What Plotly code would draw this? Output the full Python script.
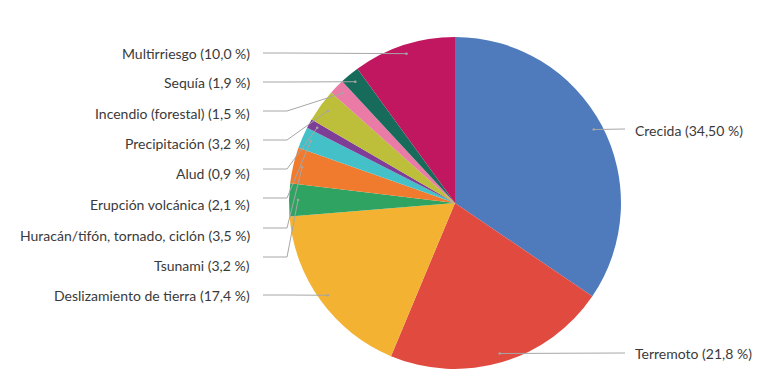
import math
import plotly.graph_objects as go

# ---- data ----
categories = ["Crecida", "Terremoto", "Deslizamiento de tierra", "Tsunami",
              "Huracán/tifón, tornado, ciclón", "Erupción volcánica", "Alud",
              "Precipitación", "Incendio (forestal)", "Sequía", "Multirriesgo"]
values = [34.5, 21.8, 17.4, 3.2, 3.5, 2.1, 0.9, 3.2, 1.5, 1.9, 10.0]
value_labels = ["34,50 %", "21,8 %", "17,4 %", "3,2 %", "3,5 %", "2,1 %", "0,9 %",
                "3,2 %", "1,5 %", "1,9 %", "10,0 %"]
colors = ["#4F7BBD", "#E04A3F", "#F3B232", "#2FA462", "#F07B2F", "#44C1C8",
          "#7E3D97", "#BDBE3A", "#E97BA6", "#176B5B", "#C01760"]

# ---- layout geometry (pixels in the page) ----
W, H = 768, 378
OFF = 8  # page body margin
CX, CY, R = 455, 203, 166
ANCHOR_R = 157
label_side = ["right", "right", "left", "left", "left", "left", "left", "left", "left", "left", "left"]
label_y = [130, 353, 295, 265, 235, 204, 174, 143, 113, 83, 53]
leader_y = [129, 353, 295, 257, 228, 198, 169, 140, 111, 82, 53]
LEFT_TEXT_X, LEFT_LINE_X, ELBOW_X = 252, 263, 287
RIGHT_LINE_X, RIGHT_TEXT_X = 625, 633


def px(x):
    return (x - OFF) / W


def py(y):
    return 1 - (y - OFF) / H


fig = go.Figure()
fig.add_trace(go.Pie(
    labels=categories, values=values, sort=False, direction="clockwise",
    rotation=0, marker=dict(colors=colors, line=dict(width=0)),
    textinfo="none", hoverinfo="label+percent", showlegend=False,
    domain=dict(x=[px(CX - R), px(CX + R)], y=[py(CY + R), py(CY - R)]),
))

total = sum(values)
cum = 0.0
shapes = []
annotations = []
LINE = dict(color="#A6A6A6", width=1)
for i, v in enumerate(values):
    mid = (cum + v / 2) / total * 2 * math.pi
    cum += v
    ax = CX + ANCHOR_R * math.sin(mid)
    ay = CY - ANCHOR_R * math.cos(mid)
    ly = leader_y[i]
    text = f"{categories[i]} ({value_labels[i]})"
    if label_side[i] == "left":
        path = f"M {px(LEFT_LINE_X)},{py(ly)} L {px(ELBOW_X)},{py(ly)} L {px(ax)},{py(ay)}"
        annotations.append(dict(x=px(LEFT_TEXT_X), y=py(label_y[i]), xref="paper", yref="paper",
                                xanchor="right", yanchor="middle", showarrow=False, text=text))
    else:
        path = f"M {px(ax)},{py(ay)} L {px(RIGHT_LINE_X)},{py(ly)}"
        annotations.append(dict(x=px(RIGHT_TEXT_X), y=py(label_y[i]), xref="paper", yref="paper",
                                xanchor="left", yanchor="middle", showarrow=False, text=text))
    shapes.append(dict(type="path", path=path, xref="paper", yref="paper", line=LINE))
    shapes.append(dict(type="circle", xref="paper", yref="paper",
                       x0=px(ax - 1.3), x1=px(ax + 1.3), y0=py(ay + 1.3), y1=py(ay - 1.3),
                       fillcolor="#A6A6A6", line=dict(width=0)))

fig.update_layout(
    width=W, height=H, margin=dict(l=0, r=0, t=0, b=0),
    paper_bgcolor="white", plot_bgcolor="white",
    font=dict(family="Lato, 'Open Sans', sans-serif", size=14, color="#3A3A3A"),
    shapes=shapes, annotations=annotations,
)
fig.write_html("out.html")
